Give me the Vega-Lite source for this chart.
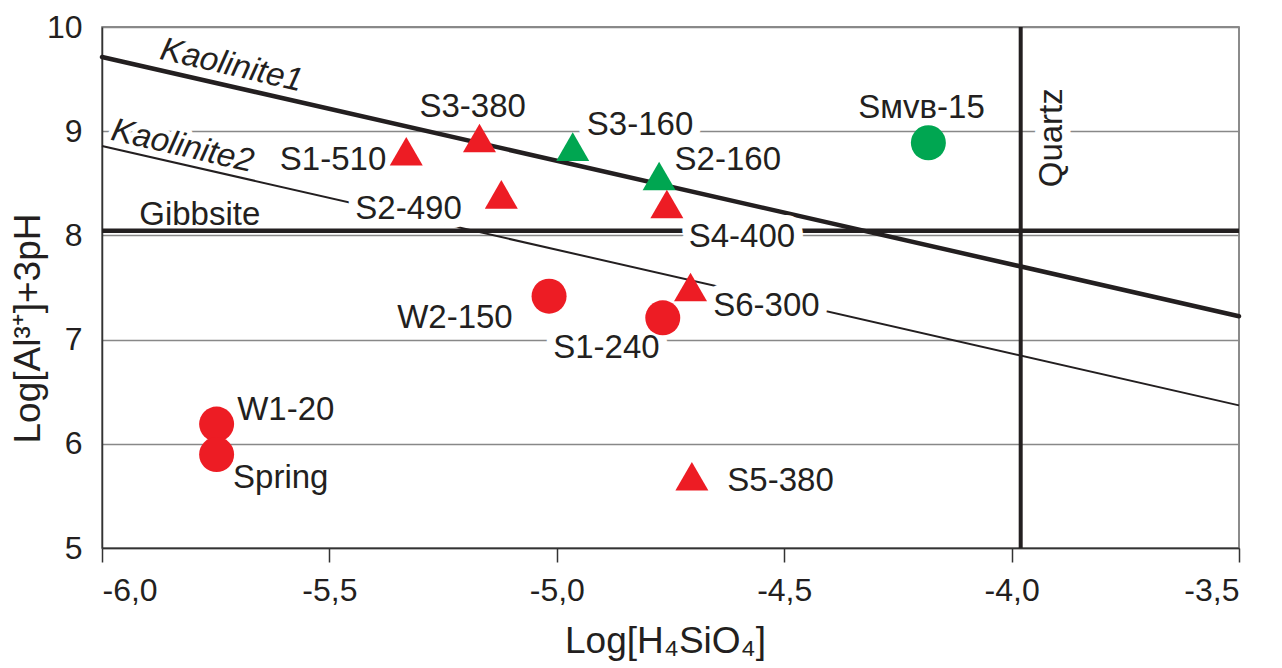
{
  "$schema": "https://vega.github.io/schema/vega-lite/v6.json",
  "width": 1137,
  "height": 521,
  "autosize": "none",
  "padding": {"left": 102, "top": 27, "right": 43, "bottom": 120},
  "background": "white",
  "config": {
    "font": "Liberation Sans",
    "view": {"stroke": "#666", "strokeWidth": 1.5}
  },
  "datasets": {
    "lines": [
      {"line": "Kaolinite1", "x": -6, "y": 9.712},
      {"line": "Kaolinite1", "x": -3.5, "y": 7.224},
      {"line": "Kaolinite2", "x": -6, "y": 8.858},
      {"line": "Kaolinite2", "x": -3.5, "y": 6.369}
    ],
    "bounds": [
      {"mineral": "Gibbsite", "y": 8.045},
      {"mineral": "Quartz", "x": -3.98}
    ],
    "samples": [
      {"name": "S1-510", "x": -5.331, "y": 8.807, "type": "A", "group": "Group 1", "lx": -5.492, "ly": 8.728},
      {"name": "S3-380", "x": -5.170, "y": 8.934, "type": "A", "group": "Group 1", "lx": -5.185, "ly": 9.237},
      {"name": "S2-490", "x": -5.122, "y": 8.394, "type": "A", "group": "Group 1", "lx": -5.326, "ly": 8.257},
      {"name": "S3-160", "x": -4.965, "y": 8.852, "type": "A", "group": "Group 2", "lx": -4.817, "ly": 9.064},
      {"name": "S2-160", "x": -4.775, "y": 8.570, "type": "A", "group": "Group 2", "lx": -4.624, "ly": 8.728},
      {"name": "S4-400", "x": -4.758, "y": 8.301, "type": "A", "group": "Group 1", "lx": -4.593, "ly": 7.989},
      {"name": "S6-300", "x": -4.706, "y": 7.505, "type": "A", "group": "Group 1", "lx": -4.539, "ly": 7.321},
      {"name": "S5-380", "x": -4.703, "y": 5.688, "type": "A", "group": "Group 1", "lx": -4.508, "ly": 5.642},
      {"name": "W2-150", "x": -5.017, "y": 7.417, "type": "B", "group": "Group 1", "lx": -5.224, "ly": 7.209},
      {"name": "S1-240", "x": -4.767, "y": 7.209, "type": "B", "group": "Group 1", "lx": -4.891, "ly": 6.921},
      {"name": "W1-20", "x": -5.748, "y": 6.189, "type": "B", "group": "Group 1", "lx": -5.596, "ly": 6.324},
      {"name": "Spring", "x": -5.748, "y": 5.897, "type": "B", "group": "Group 1", "lx": -5.607, "ly": 5.674},
      {"name": "Sᴍᴠʙ-15", "x": -4.183, "y": 8.889, "type": "B", "group": "Group 2", "lx": -4.198, "ly": 9.223}
    ],
    "minerals": [
      {"label": "Kaolinite1", "x": -5.715, "y": 9.632},
      {"label": "Kaolinite2", "x": -5.823, "y": 8.857},
      {"label": "Gibbsite", "x": -5.785, "y": 8.195},
      {"label": "Quartz", "x": -3.912, "y": 8.937}
    ]
  },
  "layer": [
    {
      "data": {"name": "samples"},
      "mark": {"type": "point", "opacity": 0, "size": 1},
      "encoding": {
        "x": {
          "field": "x", "type": "quantitative",
          "title": "Log[H₄SiO₄]",
          "scale": {"domain": [-6, -3.5], "nice": false, "zero": false},
          "axis": {
            "values": [-6, -5.5, -5, -4.5, -4, -3.5],
            "labelExpr": "replace('-' + format(abs(datum.value), '.1f'), '.', ',')",
            "grid": false,
            "tickSize": 14, "tickWidth": 1.5, "tickColor": "#333",
            "domainColor": "#333", "domainWidth": 1.5,
            "labelFontSize": 32, "labelColor": "#231F20", "labelPadding": 13,
            "labelFont": "Liberation Sans",
            "titleFont": "Liberation Sans",
            "titleFontSize": 37, "titleFontWeight": "normal", "titleColor": "#231F20",
            "titleX": 563, "titleY": 104, "titleBaseline": "alphabetic", "titleAlign": "center"
          }
        },
        "y": {
          "field": "y", "type": "quantitative",
          "title": "Log[Al³⁺]+3pH",
          "scale": {"domain": [5, 10], "nice": false, "zero": false},
          "axis": {
            "values": [5, 6, 7, 8, 9, 10],
            "labelExpr": "format(datum.value, 'd')",
            "grid": true, "gridColor": "#888", "gridWidth": 1.5,
            "ticks": false, "tickSize": 0,
            "domainColor": "#333", "domainWidth": 1.5,
            "labelFontSize": 32, "labelColor": "#231F20", "labelPadding": 20,
            "labelFont": "Liberation Sans",
            "titleFont": "Liberation Sans",
            "titleFontSize": 37, "titleFontWeight": "normal", "titleColor": "#231F20",
            "titleX": -63, "titleY": 301, "titleAngle": 270,
            "titleBaseline": "alphabetic", "titleAlign": "center"
          }
        }
      }
    },
    {
      "data": {"name": "lines"},
      "transform": [{"filter": "datum.line === 'Kaolinite1'"}],
      "mark": {"type": "line", "color": "#231F20", "strokeWidth": 4.5, "strokeCap": "round"},
      "encoding": {
        "x": {"field": "x", "type": "quantitative", "title": "Log[H₄SiO₄]", "scale": {"domain": [-6, -3.5], "nice": false, "zero": false}},
        "y": {"field": "y", "type": "quantitative", "title": "Log[Al³⁺]+3pH", "scale": {"domain": [5, 10], "nice": false, "zero": false}}
      }
    },
    {
      "data": {"name": "lines"},
      "transform": [{"filter": "datum.line === 'Kaolinite2'"}],
      "mark": {"type": "line", "color": "#231F20", "strokeWidth": 2},
      "encoding": {
        "x": {"field": "x", "type": "quantitative", "title": "Log[H₄SiO₄]", "scale": {"domain": [-6, -3.5], "nice": false, "zero": false}},
        "y": {"field": "y", "type": "quantitative", "title": "Log[Al³⁺]+3pH", "scale": {"domain": [5, 10], "nice": false, "zero": false}}
      }
    },
    {
      "data": {"name": "bounds"},
      "transform": [{"filter": "datum.mineral === 'Gibbsite'"}],
      "mark": {"type": "rule", "color": "#231F20", "strokeWidth": 4.5},
      "encoding": {
        "y": {"field": "y", "type": "quantitative", "title": "Log[Al³⁺]+3pH", "scale": {"domain": [5, 10], "nice": false, "zero": false}}
      }
    },
    {
      "data": {"name": "bounds"},
      "transform": [{"filter": "datum.mineral === 'Quartz'"}],
      "mark": {"type": "rule", "color": "#231F20", "strokeWidth": 4},
      "encoding": {
        "x": {"field": "x", "type": "quantitative", "title": "Log[H₄SiO₄]", "scale": {"domain": [-6, -3.5], "nice": false, "zero": false}}
      }
    },
    {
      "data": {"name": "samples"},
      "mark": {"type": "text", "fontSize": 33, "font": "Liberation Sans", "align": "center", "baseline": "middle", "color": "white", "stroke": "white", "strokeWidth": 18, "strokeJoin": "round"},
      "encoding": {
        "x": {"field": "lx", "type": "quantitative", "title": "Log[H₄SiO₄]", "scale": {"domain": [-6, -3.5], "nice": false, "zero": false}},
        "y": {"field": "ly", "type": "quantitative", "title": "Log[Al³⁺]+3pH", "scale": {"domain": [5, 10], "nice": false, "zero": false}},
        "text": {"field": "name"}
      }
    },
    {
      "data": {"name": "minerals"},
      "transform": [{"filter": "datum.label === 'Kaolinite2'"}],
      "mark": {"type": "text", "fontSize": 33, "font": "Liberation Sans", "fontStyle": "italic", "angle": 13, "align": "center", "baseline": "middle", "color": "white", "stroke": "white", "strokeWidth": 10, "strokeJoin": "round"},
      "encoding": {
        "x": {"field": "x", "type": "quantitative", "title": "Log[H₄SiO₄]", "scale": {"domain": [-6, -3.5], "nice": false, "zero": false}},
        "y": {"field": "y", "type": "quantitative", "title": "Log[Al³⁺]+3pH", "scale": {"domain": [5, 10], "nice": false, "zero": false}},
        "text": {"field": "label"}
      }
    },
    {
      "data": {"name": "minerals"},
      "transform": [{"filter": "datum.label === 'Quartz'"}],
      "mark": {"type": "text", "fontSize": 33, "font": "Liberation Sans", "angle": 270, "align": "center", "baseline": "middle", "color": "white", "stroke": "white", "strokeWidth": 18, "strokeJoin": "round"},
      "encoding": {
        "x": {"field": "x", "type": "quantitative", "title": "Log[H₄SiO₄]", "scale": {"domain": [-6, -3.5], "nice": false, "zero": false}},
        "y": {"field": "y", "type": "quantitative", "title": "Log[Al³⁺]+3pH", "scale": {"domain": [5, 10], "nice": false, "zero": false}},
        "text": {"field": "label"}
      }
    },
    {
      "data": {"name": "samples"},
      "transform": [{"filter": "datum.type === 'A'"}],
      "mark": {"type": "point", "shape": "triangle-up", "filled": true, "size": 1089, "opacity": 1},
      "encoding": {
        "x": {"field": "x", "type": "quantitative", "title": "Log[H₄SiO₄]", "scale": {"domain": [-6, -3.5], "nice": false, "zero": false}},
        "y": {"field": "y", "type": "quantitative", "title": "Log[Al³⁺]+3pH", "scale": {"domain": [5, 10], "nice": false, "zero": false}},
        "color": {"field": "group", "type": "nominal", "scale": {"domain": ["Group 1", "Group 2"], "range": ["#ED1C24", "#00A651"]}, "legend": null}
      }
    },
    {
      "data": {"name": "samples"},
      "transform": [{"filter": "datum.type === 'B'"}],
      "mark": {"type": "point", "shape": "circle", "filled": true, "size": 1225, "opacity": 1},
      "encoding": {
        "x": {"field": "x", "type": "quantitative", "title": "Log[H₄SiO₄]", "scale": {"domain": [-6, -3.5], "nice": false, "zero": false}},
        "y": {"field": "y", "type": "quantitative", "title": "Log[Al³⁺]+3pH", "scale": {"domain": [5, 10], "nice": false, "zero": false}},
        "color": {"field": "group", "type": "nominal", "scale": {"domain": ["Group 1", "Group 2"], "range": ["#ED1C24", "#00A651"]}, "legend": null}
      }
    },
    {
      "data": {"name": "samples"},
      "mark": {"type": "text", "fontSize": 33, "font": "Liberation Sans", "align": "center", "baseline": "middle", "color": "#231F20"},
      "encoding": {
        "x": {"field": "lx", "type": "quantitative", "title": "Log[H₄SiO₄]", "scale": {"domain": [-6, -3.5], "nice": false, "zero": false}},
        "y": {"field": "ly", "type": "quantitative", "title": "Log[Al³⁺]+3pH", "scale": {"domain": [5, 10], "nice": false, "zero": false}},
        "text": {"field": "name"}
      }
    },
    {
      "data": {"name": "minerals"},
      "transform": [{"filter": "datum.label === 'Kaolinite1' || datum.label === 'Kaolinite2'"}],
      "mark": {"type": "text", "fontSize": 33, "font": "Liberation Sans", "fontStyle": "italic", "angle": 13, "align": "center", "baseline": "middle", "color": "#231F20"},
      "encoding": {
        "x": {"field": "x", "type": "quantitative", "title": "Log[H₄SiO₄]", "scale": {"domain": [-6, -3.5], "nice": false, "zero": false}},
        "y": {"field": "y", "type": "quantitative", "title": "Log[Al³⁺]+3pH", "scale": {"domain": [5, 10], "nice": false, "zero": false}},
        "text": {"field": "label"}
      }
    },
    {
      "data": {"name": "minerals"},
      "transform": [{"filter": "datum.label === 'Gibbsite'"}],
      "mark": {"type": "text", "fontSize": 33, "font": "Liberation Sans", "align": "center", "baseline": "middle", "color": "#231F20"},
      "encoding": {
        "x": {"field": "x", "type": "quantitative", "title": "Log[H₄SiO₄]", "scale": {"domain": [-6, -3.5], "nice": false, "zero": false}},
        "y": {"field": "y", "type": "quantitative", "title": "Log[Al³⁺]+3pH", "scale": {"domain": [5, 10], "nice": false, "zero": false}},
        "text": {"field": "label"}
      }
    },
    {
      "data": {"name": "minerals"},
      "transform": [{"filter": "datum.label === 'Quartz'"}],
      "mark": {"type": "text", "fontSize": 33, "font": "Liberation Sans", "angle": 270, "align": "center", "baseline": "middle", "color": "#231F20"},
      "encoding": {
        "x": {"field": "x", "type": "quantitative", "title": "Log[H₄SiO₄]", "scale": {"domain": [-6, -3.5], "nice": false, "zero": false}},
        "y": {"field": "y", "type": "quantitative", "title": "Log[Al³⁺]+3pH", "scale": {"domain": [5, 10], "nice": false, "zero": false}},
        "text": {"field": "label"}
      }
    }
  ]
}
